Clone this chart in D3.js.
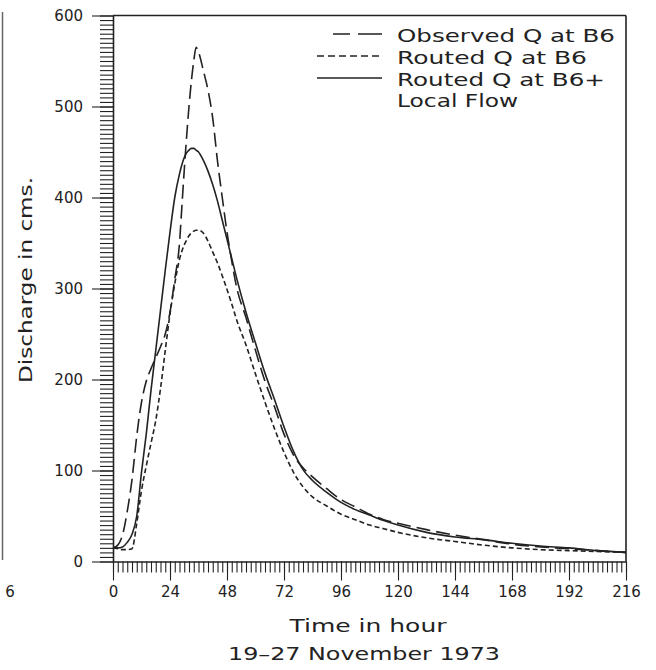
<!DOCTYPE html>
<html>
<head>
<meta charset="utf-8">
<script src="https://cdn.jsdelivr.net/npm/d3@7"></script>
<style>
html,body{margin:0;padding:0;background:#fff;}
svg{display:block;}
text{font-family:"DejaVu Sans",sans-serif;fill:#222;}
</style>
</head>
<body>
<svg id="chart" width="656" height="670"></svg>
<script>
// ---- data ----
const hours = [0,2,4,6,8,10,12,14,16,18,20,22,24,26,28,29,30,31,32,33,34,35,36,38,40,42,44,46,48,50,52,56,60,64,68,72,76,80,84,90,96,102,108,114,120,132,144,156,168,180,192,204,216];
const observedQ = [15,18,29,55,90,138,175,198,212,224,236,250,274,310,350,390,430,467,500,528,550,565,560,540,518,487,440,400,362,330,302,268,232,198,170,140,117,103,93,80,68,60,52,46,42,35,29,24,19,16,14,12,10];
const routedQ = [15,14,13,13,14,42,78,105,130,155,190,232,272,305,332,341,348,353,358,361,363,364,364,361,352,340,328,314,299,283,266,238,206,175,146,120,98,82,71,61,52,46,40,36,32,26,22,18,15,13,12,11,10];
const routedLocalQ = [15,15,16,21,30,50,98,140,188,232,276,320,362,400,426,436,444,449,452,454,454,452,450,441,429,414,396,375,354,333,312,274,240,207,178,148,121,101,89,76,65,57,51,45,40,32,27,24,20,17,15,12,10];
const xTicks = [0,24,48,72,96,120,144,168,192,216];
const yTicks = [0,100,200,300,400,500,600];
const legendLabels = ["Observed Q at B6","Routed Q at B6","Routed Q at B6+","Local Flow"];
const yTitle = "Discharge in cms.";
const xTitle1 = "Time in hour";
const xTitle2 = "19\u201327 November 1973";

// ---- layout ----
const svg = d3.select("#chart");
const X0 = 113, X1 = 626, Y0 = 561.5, Y1 = 15.5;
const x = d3.scaleLinear().domain([0,216]).range([X0,X1]);
const y = d3.scaleLinear().domain([0,600]).range([Y0,Y1]);
const ink = "#222";

// stray left edge of neighbouring figure
svg.append("line").attr("x1",2.5).attr("x2",2.5).attr("y1",12).attr("y2",560)
  .attr("stroke","#666").attr("stroke-width",1.5);
svg.append("text").attr("x",10).attr("y",597).attr("text-anchor","middle")
  .attr("font-size",15).text("6");

// y axis minor ticks
const gyMinor = svg.append("g").attr("transform",`translate(${X0},0)`)
  .call(d3.axisLeft(y).tickValues(d3.range(0,601,5)).tickSize(13).tickFormat(""));
// y axis major ticks
const gy = svg.append("g").attr("transform",`translate(${X0},0)`)
  .call(d3.axisLeft(y).tickValues(yTicks).tickSize(21).tickSizeOuter(0).tickPadding(9));
// x axis minor
const gxMinor = svg.append("g").attr("transform",`translate(0,${Y0})`)
  .call(d3.axisBottom(x).tickValues(d3.range(0,217,2)).tickSize(11).tickFormat(""));
const gx = svg.append("g").attr("transform",`translate(0,${Y0})`)
  .call(d3.axisBottom(x).tickValues(xTicks).tickSize(19).tickSizeOuter(0).tickPadding(6));

[gyMinor,gy,gxMinor,gx].forEach(g=>{
  g.selectAll("path.domain").attr("stroke",ink).attr("stroke-width",1.6);
  g.selectAll(".tick line").attr("stroke",ink).attr("stroke-width",1.1);
  g.selectAll(".tick text").attr("font-size",15).attr("font-family","DejaVu Sans").attr("fill",ink);
});
gyMinor.select("path.domain").remove();
gxMinor.select("path.domain").remove();
gy.selectAll(".tick text").attr("dy","0.36em");

// frame: top and right
svg.append("line").attr("x1",X0).attr("x2",X1).attr("y1",Y1).attr("y2",Y1)
  .attr("stroke",ink).attr("stroke-width",1.6);
svg.append("line").attr("x1",X1).attr("x2",X1).attr("y1",Y1).attr("y2",Y0)
  .attr("stroke",ink).attr("stroke-width",1.6);

// curves
const mk = vals => d3.line().x((d,i)=>x(hours[i])).y(d=>y(d)).curve(d3.curveMonotoneX)(vals);
const series = [
  {vals: observedQ, dash: "14,6"},
  {vals: routedQ, dash: "5,3"},
  {vals: routedLocalQ, dash: null}
];
series.forEach(s=>{
  svg.append("path").attr("d",mk(s.vals)).attr("fill","none")
    .attr("stroke",ink).attr("stroke-width",1.6)
    .attr("stroke-dasharray",s.dash);
});

// legend
const legY = [42,64,86,107];
const legW = [218,190,208,121];
legendLabels.forEach((t,i)=>{
  svg.append("text").attr("x",397).attr("y",legY[i]).attr("font-size",18)
    .attr("textLength",legW[i]).attr("lengthAdjust","spacingAndGlyphs").text(t);
});
svg.append("line").attr("x1",333).attr("x2",382).attr("y1",34).attr("y2",34)
  .attr("stroke",ink).attr("stroke-width",1.6).attr("stroke-dasharray","17,8,24");
svg.append("line").attr("x1",317).attr("x2",382).attr("y1",56).attr("y2",56)
  .attr("stroke",ink).attr("stroke-width",1.6).attr("stroke-dasharray","7,4");
svg.append("line").attr("x1",317).attr("x2",382).attr("y1",78).attr("y2",78)
  .attr("stroke",ink).attr("stroke-width",1.6);

// axis titles
svg.append("text").attr("transform","translate(32,280) rotate(-90)")
  .attr("text-anchor","middle").attr("font-size",18)
  .attr("textLength",206).attr("lengthAdjust","spacingAndGlyphs").text(yTitle);
svg.append("text").attr("x",368).attr("y",632).attr("text-anchor","middle")
  .attr("font-size",18).attr("textLength",157).attr("lengthAdjust","spacingAndGlyphs").text(xTitle1);
svg.append("text").attr("x",364).attr("y",660).attr("text-anchor","middle")
  .attr("font-size",18).attr("textLength",272).attr("lengthAdjust","spacingAndGlyphs").text(xTitle2);
</script>
</body>
</html>
